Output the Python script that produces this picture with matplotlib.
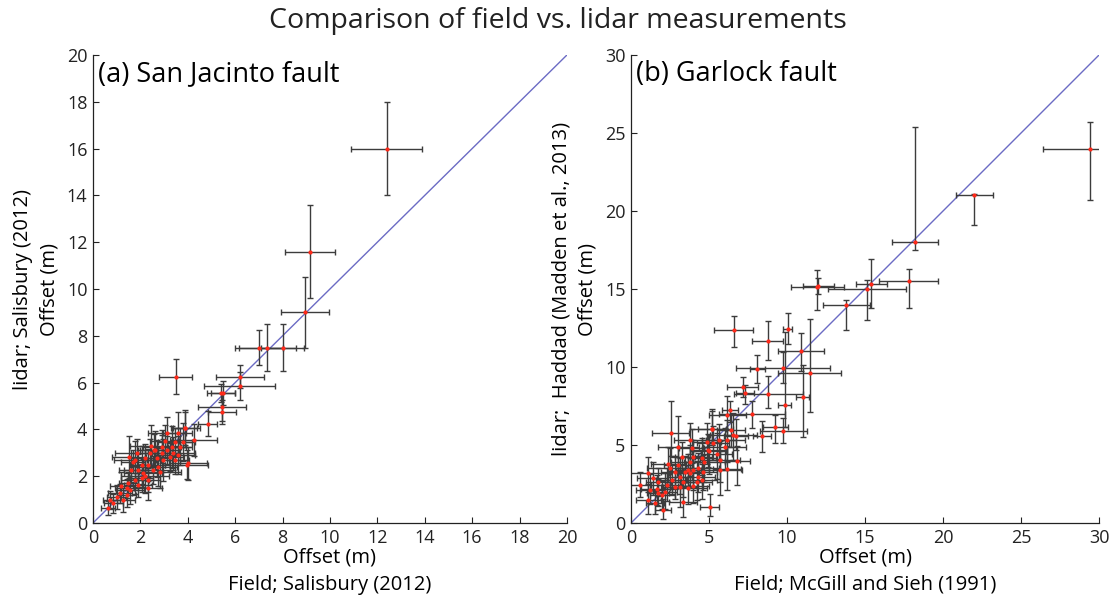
import matplotlib
matplotlib.use("Agg")
import matplotlib.pyplot as plt

plt.rcParams['font.family'] = ['Open Sans', 'DejaVu Sans']

# (a) San Jacinto fault: field offset vs lidar offset (m), with 1-sigma errors
sj_field = [12.4, 9.15, 8.95, 7.0, 7.35, 8.0, 6.2, 6.2, 5.4, 5.5, 3.5, 5.45, 5.45,
            4.85, 4.25, 3.95, 3.9,
            3.88, 3.57, 3.46, 3.81, 3.11, 3.32, 3.11, 2.9, 2.59, 2.41, 2.69, 2.97,
            3.39, 3.46, 3.67, 4.0, 2.19, 2.05, 2.33, 1.84, 1.7, 1.91, 2.12, 2.33,
            2.54, 2.83, 1.6, 1.77, 1.49, 1.42, 1.56, 1.42, 1.14, 1.0, 0.72, 0.86,
            0.65, 1.28, 1.91, 2.62, 2.9, 3.25, 1.77, 2.05, 2.33, 1.52, 2.75, 3.05,
            2.45, 3.6, 1.2, 2.2]
sj_lidar = [16.0, 11.6, 9.0, 7.5, 7.5, 7.5, 6.25, 5.85, 5.55, 5.55, 6.25, 4.95, 4.75,
            4.25, 3.55, 2.5, 4.05,
            4.05, 3.86, 3.47, 3.47, 3.83, 3.26, 3.12, 2.98, 3.12, 2.98, 2.76, 2.69,
            2.98, 2.69, 3.26, 2.55, 2.76, 2.48, 2.48, 2.98, 2.62, 2.26, 2.12, 1.84,
            2.26, 2.19, 2.26, 1.84, 1.7, 1.48, 1.41, 1.2, 1.27, 1.12, 0.98, 0.84,
            0.63, 0.98, 1.62, 3.12, 3.26, 2.83, 2.69, 1.91, 1.48, 2.83, 2.4, 3.5,
            3.3, 2.9, 1.6, 2.0]
sj_field_err = [1.5, 1.05, 1.0, 1.0, 1.2, 0.9, 1.0, 1.5, 0.6, 0.5, 0.7, 1.0, 0.6,
                0.4, 1.0, 0.9, 0.6,
                0.5, 0.6, 0.7, 0.5, 0.8, 0.6, 0.5, 0.7, 0.6, 0.8, 0.5, 0.7,
                0.9, 0.6, 0.5, 0.8, 0.6, 0.5, 0.7, 0.9, 0.5, 0.6, 0.8, 0.5,
                0.7, 0.9, 0.5, 0.6, 0.4, 0.5, 0.6, 0.4, 0.5, 0.4, 0.3, 0.4,
                0.3, 0.5, 0.6, 0.7, 0.8, 0.6, 0.9, 0.5, 0.6, 0.7, 0.8, 0.6,
                0.9, 0.7, 0.5, 1.0]
sj_lidar_err = [2.0, 2.0, 1.5, 0.75, 1.0, 1.0, 0.5, 0.6, 0.4, 0.5, 0.75, 0.6, 0.5,
                0.55, 0.7, 0.6, 0.8,
                0.7, 0.9, 0.6, 0.8, 0.7, 0.9, 0.6, 0.8, 0.7, 0.6, 0.8, 0.9,
                0.7, 0.6, 0.8, 0.7, 0.6, 0.8, 0.7, 0.6, 0.5, 0.7, 0.6, 0.5,
                0.6, 0.7, 0.5, 0.6, 0.5, 0.4, 0.6, 0.5, 0.4, 0.5, 0.4, 0.4,
                0.3, 0.5, 0.5, 0.8, 0.7, 0.6, 0.8, 0.6, 0.5, 0.9, 0.8, 0.7,
                0.9, 0.8, 0.6, 0.7]

# (b) Garlock fault
gf_field = [29.4, 22.0, 18.2, 17.8, 15.4, 15.15, 13.8, 11.95, 12.0, 6.6, 8.75, 10.05,
            10.9, 11.45, 11.0, 9.75, 8.1, 7.15, 7.3, 8.8, 9.85, 6.35, 7.75, 2.55,
            9.25, 9.75, 8.4, 6.8, 5.05,
            6.17, 6.39, 6.56, 6.73, 5.66, 5.17, 4.89, 4.96, 3.78, 3.03, 3.89, 5.02,
            4.53, 3.78, 3.67, 3.99, 4.31, 4.63, 4.31, 5.71, 6.13, 2.61, 3.14, 3.35,
            2.82, 2.29, 1.75, 1.11, 0.58, 1.22, 1.65, 2.18, 3.14, 3.67, 3.46, 4.21,
            1.75, 1.11, 1.54, 2.07, 3.35, 5.71, 4.53, 3.99, 2.82, 2.5, 3.78, 6.13,
            5.26, 5.17, 1.4, 2.0, 2.4, 3.0, 4.7, 5.5, 6.0, 3.3, 4.0]
gf_lidar = [24.0, 21.0, 18.0, 15.5, 15.3, 15.0, 13.95, 15.15, 15.2, 12.4, 11.65, 12.45,
            11.05, 9.6, 8.1, 9.95, 9.85, 8.75, 8.35, 8.3, 7.55, 7.25, 7.0, 5.8,
            6.15, 5.9, 5.55, 3.95, 1.05,
            6.92, 5.96, 5.64, 5.58, 5.32, 6.0, 5.21, 4.68, 5.32, 4.85, 4.83, 4.63,
            4.15, 3.93, 3.4, 3.4, 3.51, 3.29, 2.97, 3.4, 3.44, 2.76, 2.97, 2.65,
            2.33, 2.44, 2.65, 3.22, 2.44, 2.12, 2.16, 2.01, 2.33, 2.22, 3.29, 2.65,
            1.9, 1.47, 1.26, 0.83, 1.37, 4.04, 2.76, 4.25, 3.29, 3.51, 3.19, 5.32,
            5.13, 6.0, 2.9, 1.8, 3.8, 3.7, 3.9, 4.4, 4.9, 4.2, 2.4]
gf_field_err = [3.0, 1.2, 1.5, 1.9, 1.0, 2.5, 1.5, 1.7, 1.0, 1.25, 1.0, 0.3,
                1.5, 2.0, 0.4, 3.0, 0.5, 1.0, 0.6, 2.2, 0.4, 0.5, 2.1, 1.2,
                0.8, 1.5, 0.6, 0.8, 0.6,
                1.2, 0.9, 1.5, 0.8, 1.1, 1.4, 0.9, 1.2, 1.0, 1.3, 0.8, 1.1,
                0.9, 1.2, 0.8, 1.0, 1.3, 0.9, 1.1, 1.4, 0.9, 1.0, 0.8, 1.2,
                0.9, 1.0, 0.8, 1.3, 0.7, 0.9, 1.0, 0.8, 1.1, 1.2, 0.9, 1.0,
                0.7, 0.8, 0.6, 0.5, 0.9, 1.3, 1.0, 1.2, 0.9, 1.5, 0.8, 1.2,
                1.0, 0.9, 1.0, 0.8, 1.1, 0.9, 1.3, 1.0, 1.4, 0.8, 1.0]
gf_lidar_lo = [3.3, 1.9, 0.5, 1.7, 1.5, 2.0, 1.6, 1.5, 0.5, 1.1, 1.2, 1.0,
               1.3, 2.5, 2.6, 1.0, 0.9, 0.7, 0.7, 0.9, 1.4, 0.8, 0.9, 1.5,
               1.0, 0.8, 1.0, 1.5, 0.6,
               1.3, 1.1, 1.6, 0.9, 1.2, 1.0, 1.4, 1.1, 0.9, 1.2, 1.0, 1.5,
               1.1, 0.9, 1.0, 1.3, 0.8, 1.2, 1.0, 1.6, 1.3, 0.9, 1.1, 1.0,
               0.8, 1.0, 0.9, 1.2, 0.8, 0.9, 1.0, 1.1, 1.3, 1.0, 0.9, 1.2,
               0.8, 0.9, 0.7, 0.6, 1.0, 1.4, 1.2, 1.0, 1.1, 1.2, 0.9, 1.4,
               1.1, 1.0, 1.0, 0.9, 1.2, 1.1, 1.3, 1.6, 1.5, 1.0, 1.1]
gf_lidar_hi = [1.7, 0.1, 7.4, 0.8, 1.6, 0.6, 0.35, 1.1, 0.5, 0.9, 1.3, 1.0,
               1.1, 3.5, 2.0, 1.0, 0.9, 0.6, 0.5, 1.1, 4.7, 0.6, 0.8, 2.0,
               0.8, 0.8, 1.0, 1.0, 0.8,
               1.2, 1.0, 1.4, 1.1, 1.0, 1.3, 1.2, 1.0, 1.1, 2.0, 1.2, 1.0,
               1.3, 1.1, 1.0, 1.2, 1.0, 1.1, 1.3, 1.2, 1.5, 1.0, 1.2, 0.9,
               1.0, 1.1, 0.9, 1.0, 0.8, 1.0, 0.9, 1.2, 1.0, 1.1, 1.0, 1.3,
               0.9, 1.0, 0.8, 0.7, 1.0, 1.2, 1.0, 1.1, 1.0, 1.3, 1.0, 1.3,
               1.1, 1.2, 1.0, 0.9, 1.1, 1.2, 1.0, 1.4, 1.2, 1.0, 1.1]

bar_color = "#3c3c3c"
dot_color = "#ff2a1a"
line_color = "#6b6bc4"


def draw_panel(ax, x, y, xerr, yerr, lim, step, label, xsource, ysource):
    ax.plot([0, lim], [0, lim], color=line_color, lw=1.0, zorder=1)
    ax.errorbar(x, y, xerr=xerr, yerr=yerr, fmt="none", ecolor=bar_color,
                elinewidth=1.0, capsize=2.5, capthick=1.0, zorder=2)
    ax.plot(x, y, "o", color=dot_color, markersize=3.0, mec="none", zorder=3)
    ax.set_xlim(0, lim)
    ax.set_ylim(0, lim)
    ticks = list(range(0, lim + 1, step))
    ax.set_xticks(ticks)
    ax.set_yticks(ticks)
    ax.tick_params(direction="in", length=4, labelsize=13, colors="#222222", pad=4)
    for s in ["top", "right"]:
        ax.spines[s].set_visible(False)
    for s in ["left", "bottom"]:
        ax.spines[s].set_color("#222222")
        ax.spines[s].set_linewidth(0.9)
    ax.set_xlabel("Offset (m)\n" + xsource, fontsize=14.5, linespacing=1.45, labelpad=1)
    ax.set_ylabel(ysource + "\nOffset (m)", fontsize=14.5, linespacing=1.45, labelpad=5)
    ax.text(0.01, 0.99, label, transform=ax.transAxes, fontsize=19.5,
            va="top", ha="left")


fig = plt.figure(figsize=(11.16, 6.11), dpi=100)
ax1 = fig.add_axes([0.0833, 0.144, 0.4247, 0.766])
ax2 = fig.add_axes([0.5654, 0.144, 0.4194, 0.766])

draw_panel(ax1, sj_field, sj_lidar, sj_field_err, sj_lidar_err, 20, 2,
           "(a) San Jacinto fault", "Field; Salisbury (2012)",
           "lidar; Salisbury (2012)")
draw_panel(ax2, gf_field, gf_lidar, gf_field_err, [gf_lidar_lo, gf_lidar_hi], 30, 5,
           "(b) Garlock fault", "Field; McGill and Sieh (1991)",
           "lidar;  Haddad (Madden et al., 2013)")

fig.text(0.5, 0.966, "Comparison of field vs. lidar measurements", ha="center",
         va="center", fontsize=20.5, color="#222222")

fig.savefig("out.png", dpi=100)
